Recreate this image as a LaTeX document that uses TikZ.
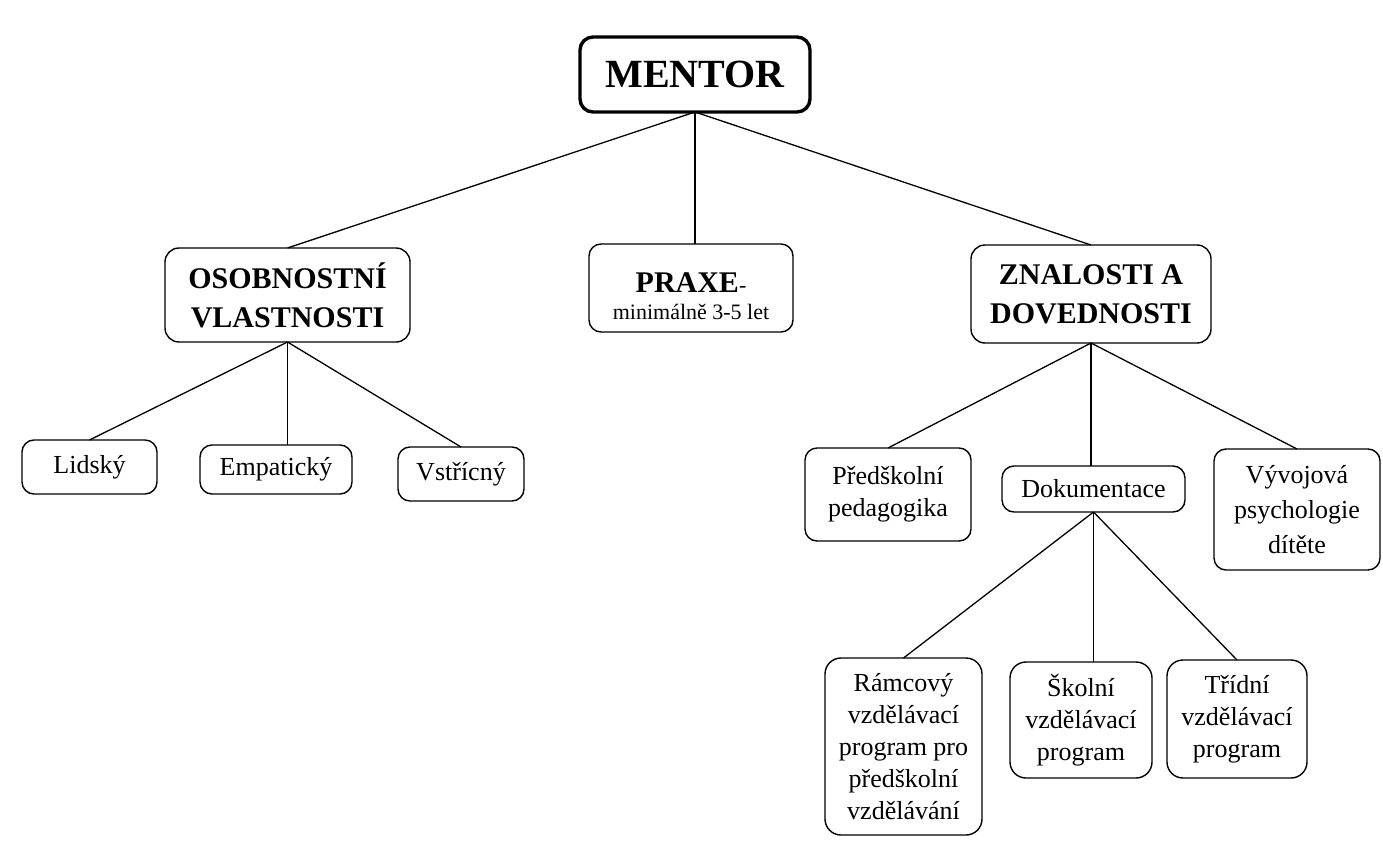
\documentclass[tikz,border=0pt]{standalone}
\usepackage{fontspec}
\setmainfont{Liberation Serif}
\usetikzlibrary{positioning}

\newcommand{\txt}{\fontsize{26}{32}\selectfont}
\newcommand{\hd}{\fontsize{30}{39}\selectfont\bfseries}

\begin{document}
\begin{tikzpicture}[x=1pt,y=-1pt,every node/.style={block},
        block/.style={draw,rectangle,rounded corners=12pt,line width=1.4pt,
          align=center,inner sep=0pt,outer sep=0pt,font=\txt},
        head/.style={font=\hd,rounded corners=14pt},
        conn/.style={line width=1.3pt}]
   \useasboundingbox (0,0) rectangle (1383,859);

   \node (M) at (695,74.5) [minimum width=230,minimum height=75,line width=3.4pt,
        rounded corners=13pt,font=\fontsize{40}{40}\selectfont\bfseries] {MENTOR};

   \node (O) at (287.5,295) [head,minimum width=245,minimum height=94] {OSOBNOSTNÍ\\VLASTNOSTI};
   \node (P) at (691,288) [minimum width=204,minimum height=88,font=\fontsize{22}{27}\selectfont]
        {\rule{0pt}{36pt}{\hd PRAXE}-\\minimálně 3-5 let};
   \node (Z) at (1091,294) [head,minimum width=240,minimum height=98] {ZNALOSTI A\\DOVEDNOSTI};

   \node (L) at (89.5,467) [minimum width=135,minimum height=54] {Lidský};
   \node (E) at (276,469.5) [minimum width=152,minimum height=49] {Empatický};
   \node (V) at (461,474) [minimum width=126,minimum height=54] {Vstřícný};

   \node (PP) at (888,494.5) [minimum width=166,minimum height=93] {Předškolní\\pedagogika};
   \node (D) at (1093.5,489) [minimum width=183,minimum height=46] {Dokumentace};
   \node (VP) at (1297,509.5) [minimum width=166,minimum height=121,
        font=\fontsize{26}{35}\selectfont] {Vývojová\\psychologie\\dítěte};

   \node (R) at (903.5,746.5) [minimum width=157,minimum height=177,rounded corners=16pt]
        {Rámcový\\vzdělávací\\program pro\\předškolní\\vzdělávání};
   \node (S) at (1081,720) [minimum width=142,minimum height=116,rounded corners=16pt]
        {Školní\\vzdělávací\\program};
   \node (T) at (1237,719) [minimum width=140,minimum height=118,rounded corners=16pt]
        {Třídní\\vzdělávací\\program};

   % connectors
   \draw[conn] (M.south) -- (O.north);
   \draw[conn] (M.south) -- (M.south |- P.north);
   \draw[conn] (M.south) -- (Z.north);

   \draw[conn] (O.south) -- (L.north);
   \draw[conn] (O.south) -- (O.south |- E.north);
   \draw[conn] (O.south) -- (V.north);

   \draw[conn] (Z.south) -- (PP.north);
   \draw[conn] (Z.south) -- (Z.south |- D.north);
   \draw[conn] (Z.south) -- (VP.north);

   \draw[conn] (D.south) -- (R.north);
   \draw[conn] (D.south) -- (D.south |- S.north);
   \draw[conn] (D.south) -- (T.north);
\end{tikzpicture}
\end{document}
